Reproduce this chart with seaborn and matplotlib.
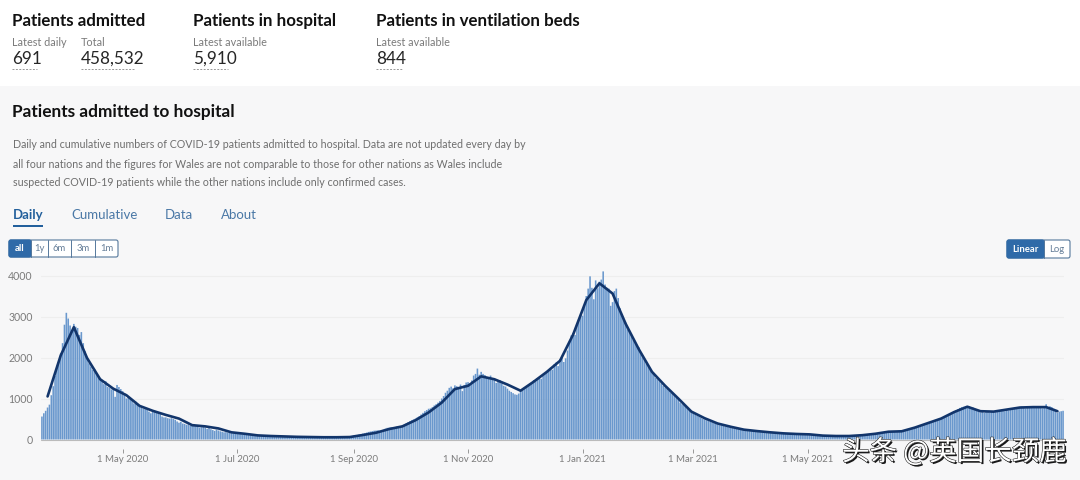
import pandas as pd
import seaborn as sns
import matplotlib.pyplot as plt
import matplotlib.patheffects as pe
from matplotlib.patches import Rectangle, FancyBboxPatch

# daily admissions, one value a day from 19 Mar 2020
start_date = "2020-03-19"
daily_values = [
    560, 640, 700, 780, 850, 1080, 1300, 1550, 1800, 1900,
    2100, 2350, 2800, 3090, 2950, 2780, 2650, 2820, 2750, 2720,
    2550, 2620, 2350, 2150, 1980, 1860, 1780, 1700, 1720, 1620,
    1540, 1480, 1420, 1350, 1420, 1280, 1260, 1220, 1250, 1040,
    1330, 1280, 1230, 1180, 1120, 1000, 1050, 1010, 950, 880,
    920, 850, 800, 770, 750, 740, 720, 680, 640, 700,
    700, 690, 660, 620, 560, 540, 540, 520, 510, 520,
    500, 480, 440, 410, 430, 390, 380, 360, 360, 330,
    340, 370, 340, 310, 290, 300, 320, 290, 260, 280,
    250, 230, 210, 240, 220, 200, 190, 175, 180, 170,
    160, 155, 150, 145, 140, 150, 135, 125, 120, 115,
    110, 115, 105, 100, 105, 95, 90, 100, 95, 90,
    90, 85, 80, 90, 85, 80, 75, 85, 80, 70,
    70, 75, 70, 65, 70, 70, 60, 65, 70, 60,
    65, 60, 55, 65, 60, 55, 60, 60, 55, 60,
    55, 60, 60, 55, 65, 60, 55, 60, 65, 60,
    60, 65, 70, 60, 70, 85, 95, 100, 110, 120,
    130, 145, 155, 170, 185, 195, 205, 215, 220, 225,
    210, 225, 240, 265, 285, 290, 300, 280, 305, 315,
    320, 325, 340, 360, 390, 420, 445, 470, 490, 510,
    540, 570, 610, 650, 690, 720, 750, 760, 790, 830,
    860, 900, 940, 1000, 1060, 1140, 1190, 1260, 1290, 1250,
    1320, 1300, 1280, 1340, 1180, 1330, 1390, 1400, 1340, 1440,
    1560, 1600, 1730, 1580, 1650, 1600, 1570, 1500, 1520, 1560,
    1460, 1490, 1380, 1420, 1450, 1370, 1310, 1290, 1240, 1190,
    1160, 1130, 1100, 1090, 1120, 1170, 1200, 1250, 1290, 1330,
    1350, 1380, 1450, 1420, 1500, 1520, 1480, 1560, 1620, 1650,
    1680, 1750, 1700, 1840, 1880, 1790, 1960, 2010, 1890, 1980,
    2170, 2380, 2540, 2600, 2550, 2780, 2940, 3040, 3020, 3250,
    3500, 3680, 3980, 3700, 3420, 3880, 3690, 3850, 3900, 4100,
    3780, 3700, 3680, 3260, 3350, 3620, 3680, 3450, 3200, 3050,
    2930, 2850, 2680, 2620, 2560, 2430, 2350, 2300, 2250, 2080,
    2000, 1950, 1850, 1790, 1700, 1620, 1580, 1500, 1470, 1420,
    1370, 1310, 1270, 1230, 1190, 1140, 1120, 1060, 1020, 980,
    900, 860, 840, 800, 760, 700, 680, 640, 610, 580,
    560, 530, 500, 490, 470, 450, 430, 420, 400, 390,
    370, 350, 350, 330, 320, 310, 300, 290, 280, 270,
    265, 260, 250, 240, 235, 230, 225, 220, 215, 210,
    205, 200, 195, 195, 190, 185, 180, 175, 170, 170,
    165, 160, 155, 155, 150, 150, 145, 140, 140, 135,
    135, 130, 130, 125, 130, 130, 125, 120, 120, 115,
    110, 105, 100, 100, 95, 90, 95, 90, 85, 85,
    85, 80, 85, 80, 80, 75, 80, 85, 80, 85,
    85, 85, 90, 90, 90, 95, 100, 95, 100, 110,
    110, 120, 125, 130, 140, 150, 155, 165, 170, 180,
    185, 190, 195, 200, 200, 205, 200, 205, 210, 215,
    205, 220, 240, 255, 270, 285, 300, 320, 340, 355,
    370, 390, 405, 420, 435, 450, 470, 480, 500, 520,
    545, 570, 590, 610, 640, 660, 690, 710, 740, 770,
    790, 800, 810, 800, 815, 790, 780, 740, 730, 690,
    660, 680, 650, 670, 680, 660, 690, 670, 680, 700,
    680, 700, 710, 690, 720, 710, 740, 730, 760, 780,
    790, 770, 800, 790, 760, 810, 780, 800, 790, 770,
    780, 810, 800, 760, 790, 860, 780, 810, 790, 750,
    720, 650, 680, 690, 700,
]

avg_start = "2020-03-22"
avg_end = "2021-09-11"
avg_values = [
    1050, 2050, 2740, 1990, 1470, 1240, 1080, 820, 700, 600,
    510, 350, 320, 270, 175, 140, 100, 85, 75, 65,
    60, 55, 55, 60, 110, 165, 255, 320, 470, 660,
    900, 1230, 1310, 1540, 1470, 1340, 1190, 1410, 1650, 1920,
    2560, 3400, 3810, 3560, 2820, 2200, 1650, 1310, 1000, 680,
    520, 390, 310, 240, 205, 175, 150, 135, 125, 95,
    85, 85, 105, 140, 190, 200, 290, 400, 510, 670,
    800, 690, 680, 730, 780, 790, 790, 690,
]

y_ticks = [0, 1000, 2000, 3000, 4000]
x_tick_dates = ["2020-05-01", "2020-07-01", "2020-09-01", "2020-11-01",
                "2021-01-01", "2021-03-01", "2021-05-01"]
x_tick_labels = ["1 May 2020", "1 Jul 2020", "1 Sep 2020", "1 Nov 2020",
                 "1 Jan 2021", "1 Mar 2021", "1 May 2021"]

range_buttons = ["all", "1y", "6m", "3m", "1m"]
scale_buttons = ["Linear", "Log"]
tabs = ["Daily", "Cumulative", "Data", "About"]
intro_lines = [
    "Daily and cumulative numbers of COVID-19 patients admitted to hospital. Data are not updated every day by",
    "all four nations and the figures for Wales are not comparable to those for other nations as Wales include",
    "suspected COVID-19 patients while the other nations include only confirmed cases.",
]

BLUE = "#2f6aa8"
BAR = "#6a98cd"
LINE = "#12356b"
GREY = "#7b7b7b"

sns.set_theme(style="white")
plt.rcParams["font.family"] = ["Lato", "DejaVu Sans"]

W, H = 1080, 480
fig = plt.figure(figsize=(W / 100, H / 100), dpi=100, facecolor="white")

# whole figure in pixel coordinates, for the page around the chart
page = fig.add_axes([0, 0, 1, 1], zorder=0)
page.set_xlim(0, W)
page.set_ylim(H, 0)
page.axis("off")
page.add_patch(Rectangle((0, 86), W, H - 86, color="#f7f7f8", lw=0))


def txt(x, y, s, size=7.5, color=GREY, weight="normal", ha="left"):
    page.text(x, y, s, fontsize=size, color=color, fontweight=weight,
              ha=ha, va="center")


def stat(x, y_width, label, value):
    txt(x, 42, label, size=7.8)
    txt(x, 58.5, value, size=12.3, color="#262626")
    page.plot([x, x + y_width], [68.5, 68.5], color="#999999", lw=0.7,
              ls=(0, (2, 1.5)))


txt(12, 21, "Patients admitted", size=12.2, color="#111111", weight="bold")
txt(193, 21, "Patients in hospital", size=12.2, color="#111111", weight="bold")
txt(376, 21, "Patients in ventilation beds", size=12.2, color="#111111", weight="bold")
stat(12, 25, "Latest daily", "691")
stat(81, 54, "Total", "458,532")
stat(193, 35, "Latest available", "5,910")
stat(376, 26, "Latest available", "844")

txt(12, 112, "Patients admitted to hospital", size=12.4, color="#111111", weight="bold")
for line, y in zip(intro_lines, [145, 164, 183]):
    txt(13, y, line, size=7.7, color="#6e6e6e")

for name, x in zip(tabs, [13, 71, 165, 221]):
    if name == "Daily":
        txt(x, 215, name, size=9.5, color="#23609c", weight="bold")
    else:
        txt(x, 215, name, size=9.5, color="#4a78a6")
page.add_patch(Rectangle((12.5, 224.5), 30, 2.5, color="#23609c", lw=0))


def buttons(names, edges, top, bottom):
    page.add_patch(FancyBboxPatch((edges[0], top), edges[-1] - edges[0], bottom - top,
                                  boxstyle="round,pad=0,rounding_size=2",
                                  fc="white", ec="#55789c", lw=0.8))
    page.add_patch(FancyBboxPatch((edges[0], top), edges[1] - edges[0], bottom - top,
                                  boxstyle="round,pad=0,rounding_size=2",
                                  fc=BLUE, ec=BLUE, lw=0.8))
    for i, name in enumerate(names):
        mid = (edges[i] + edges[i + 1]) / 2
        if i == 0:
            txt(mid, (top + bottom) / 2, name, size=6.8, color="white", weight="bold", ha="center")
        else:
            txt(mid, (top + bottom) / 2, name, size=6.8, color="#667f99", ha="center")
            page.plot([edges[i], edges[i]], [top, bottom], color="#55789c", lw=0.7)


buttons(range_buttons, [9, 31, 48, 71, 95, 118], 240, 257)
buttons(scale_buttons, [1007, 1044, 1070], 240, 258)

# chart area, 0 sits at y=439.5 and 1000 cases take 41 px
left, right, top, bottom = 41, 1064, 265, 439.5
ax = fig.add_axes([left / W, 1 - bottom / H, (right - left) / W, (bottom - top) / H], zorder=1)
ax.patch.set_alpha(0)

days = pd.date_range(start_date, periods=len(daily_values))
daily = pd.DataFrame({"day": (days - days[0]).days, "admitted": daily_values})

avg_days = list(pd.date_range(avg_start, periods=len(avg_values) - 1, freq="7D")) + [pd.Timestamp(avg_end)]
avg = pd.DataFrame({"day": [(d - days[0]).days for d in avg_days], "admitted": avg_values})

sns.barplot(data=daily, x="day", y="admitted", native_scale=True, color=BAR,
            width=0.85, saturation=1, errorbar=None, ax=ax, linewidth=0)
# keep bars from snapping to whole pixels, it makes them uneven at this width
for bar in ax.patches:
    bar.set_snap(False)
sns.lineplot(data=avg, x="day", y="admitted", color=LINE, lw=1.9, errorbar=None, ax=ax)

ax.set_xlim(-0.5, len(daily_values) - 0.5)
ax.set_ylim(0, (bottom - top) / 41 * 1000)
ax.set_xlabel("")
ax.set_ylabel("")

tick_pos = [(pd.Timestamp(d) - days[0]).days for d in x_tick_dates]
ax.set_xticks(tick_pos, x_tick_labels)
ax.set_yticks(y_ticks, [str(v) for v in y_ticks])
ax.tick_params(axis="x", length=3, width=0.7, color="#999999", labelcolor=GREY,
               labelsize=6.9, pad=2, bottom=True)
ax.tick_params(axis="y", length=0, labelcolor=GREY, labelsize=7.6, pad=6)
ax.grid(axis="y", color="#eeeeee", lw=0.8)
ax.set_axisbelow(True)
for side in ["top", "right", "left"]:
    ax.spines[side].set_visible(False)
ax.spines["bottom"].set_position(("outward", 6.5))
ax.spines["bottom"].set_visible(False)
ax.axhline(0, color="#bbbbbb", lw=0.8, clip_on=False)

# site watermark
fig.text(842 / W, 1 - 452 / H, "头条 @英国长颈鹿", fontsize=19.8, color="white",
         family=["Noto Sans CJK SC", "DejaVu Sans"], va="center", ha="left", zorder=5,
         path_effects=[pe.withSimplePatchShadow(offset=(1.2, -1.2), shadow_rgbFace="black", alpha=0.9),
                       pe.Stroke(linewidth=0.8, foreground="#222222"), pe.Normal()])

fig.savefig("out.png", dpi=100, facecolor="white")
